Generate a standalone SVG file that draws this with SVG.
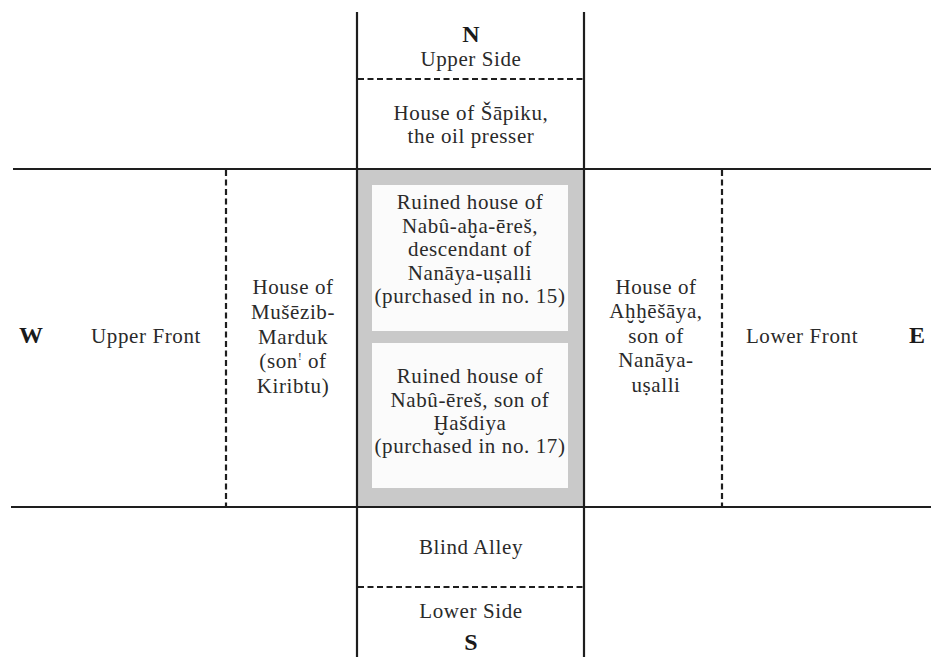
<svg xmlns="http://www.w3.org/2000/svg" width="934" height="657" viewBox="0 0 934 657">
  <style>
    .t { font-family: "Liberation Serif", "DejaVu Serif", serif; font-size: 21px; fill: #2a2a2a; text-anchor: middle; letter-spacing: 0.6px; }
    .dir { font-family: "Liberation Serif", "DejaVu Serif", serif; font-size: 24px; font-weight: bold; fill: #1a1a1a; text-anchor: middle; }
    .solid { stroke: #1e1e1e; stroke-width: 2.2; fill: none; }
    .dash { stroke: #1e1e1e; stroke-width: 2.2; fill: none; stroke-dasharray: 6 3.5; }
    .ruin { fill: #fbfbfb; }
  </style>
  <rect width="934" height="657" fill="#ffffff"/>

  <!-- shaded central plot with the two ruined houses -->
  <g id="plot">
    <rect x="357" y="169" width="227" height="338" fill="#c9c9c9"/>
    <rect class="ruin" x="372" y="185" width="196" height="146"/>
    <rect class="ruin" x="372" y="343" width="196" height="145"/>
  </g>

  <!-- boundary lines -->
  <g id="connectors">
    <line class="solid" x1="357" y1="12" x2="357" y2="657"/>
    <line class="solid" x1="584" y1="12" x2="584" y2="657"/>
    <line class="solid" x1="13" y1="169" x2="931" y2="169"/>
    <line class="solid" x1="11" y1="507" x2="931" y2="507"/>
    <line class="dash" x1="358" y1="79" x2="583" y2="79"/>
    <line class="dash" x1="358" y1="587" x2="583" y2="587"/>
    <line class="dash" x1="226" y1="170" x2="226" y2="506"/>
    <line class="dash" x1="722" y1="170" x2="722" y2="506"/>
  </g>

  <g id="north">
    <text class="dir" x="471" y="42">N</text>
    <text class="t" x="471" y="66">Upper Side</text>
  </g>

  <g id="house-sapiku">
    <text class="t" x="471" y="120">House of  Šāpiku,</text>
    <text class="t" x="471" y="143">the oil presser</text>
  </g>

  <g id="ruin-naba-aha-eres">
    <text class="t" x="470" y="209">Ruined house of</text>
    <text class="t" x="470" y="233">Nabû-aḫa-ēreš,</text>
    <text class="t" x="470" y="256">descendant of</text>
    <text class="t" x="470" y="280">Nanāya-uṣalli</text>
    <text class="t" x="470" y="303">(purchased in no. 15)</text>
  </g>

  <g id="ruin-nabu-eres">
    <text class="t" x="470" y="383">Ruined house of</text>
    <text class="t" x="470" y="407">Nabû-ēreš, son of</text>
    <text class="t" x="470" y="430">Ḫašdiya</text>
    <text class="t" x="470" y="453">(purchased in no. 17)</text>
  </g>

  <g id="west">
    <text class="dir" x="31" y="343">W</text>
    <text class="t" x="146" y="343">Upper Front</text>
  </g>

  <g id="house-musezib">
    <text class="t" x="293" y="294">House of</text>
    <text class="t" x="293" y="319">Mušēzib-</text>
    <text class="t" x="293" y="344">Marduk</text>
    <text class="t" x="293" y="368">(son<tspan font-size="11" dy="-8">!</tspan><tspan dy="8"> of</tspan></text>
    <text class="t" x="293" y="393">Kiribtu)</text>
  </g>

  <g id="house-ahhesaya">
    <text class="t" x="656" y="294">House of</text>
    <text class="t" x="656" y="318">Aḫḫēšāya,</text>
    <text class="t" x="656" y="343">son of</text>
    <text class="t" x="656" y="367">Nanāya-</text>
    <text class="t" x="656" y="392">uṣalli</text>
  </g>

  <g id="east">
    <text class="t" x="802" y="343">Lower Front</text>
    <text class="dir" x="917" y="343">E</text>
  </g>

  <g id="blind-alley">
    <text class="t" x="471" y="554">Blind Alley</text>
  </g>

  <g id="south">
    <text class="t" x="471" y="618">Lower Side</text>
    <text class="dir" x="471" y="650">S</text>
  </g>
</svg>
